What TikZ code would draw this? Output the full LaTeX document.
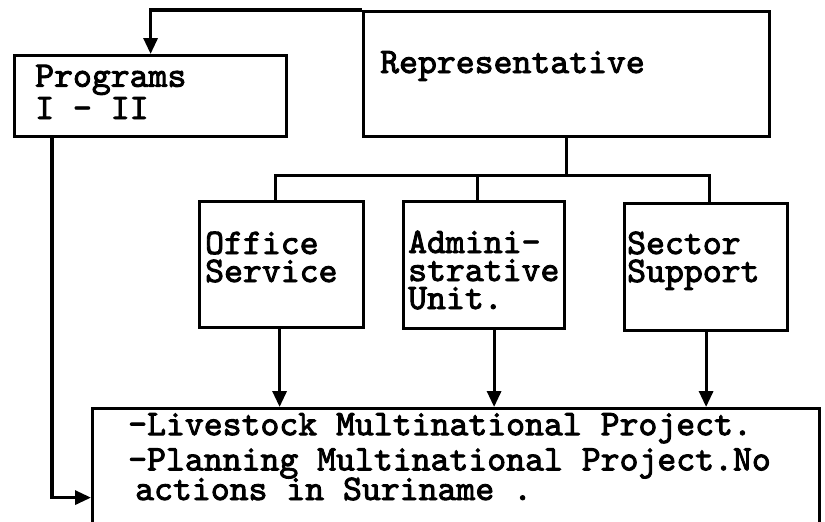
\documentclass[tikz,border=0pt]{standalone}
\usepackage{fontspec}
\newfontfamily\typew{lmmono10-regular.otf}[FakeBold=2.5]
\usetikzlibrary{arrows.meta,calc}

\begin{document}
\begin{tikzpicture}[x=1pt,y=-1pt,
  box/.style={draw,line width=3.2pt,anchor=north west,inner sep=0pt},
  txt/.style={anchor=base west,align=left,inner sep=0pt,
    font=\typew\bfseries\fontsize{36pt}{29pt}\selectfont},
  link/.style={line width=3.2pt},
  arr/.style={line width=3.2pt,-{Triangle[length=16pt,width=14pt]}}]
  \useasboundingbox (0,0) rectangle (825,522);
  \clip (0,0) rectangle (825,522);
  \node[box,minimum width=272pt,minimum height=81pt]  (prog)   at (13,54)   {};
  \node[box,minimum width=406pt,minimum height=125pt] (rep)    at (362,10)  {};
  \node[box,minimum width=164pt,minimum height=126pt] (office) at (198,200) {};
  \node[box,minimum width=161pt,minimum height=127pt] (admin)  at (402,200) {};
  \node[box,minimum width=163pt,minimum height=127pt] (sector) at (623,202) {};
  \node[box,minimum width=727pt,minimum height=178pt] (proj)   at (91,407)  {};
  % anchors sit on the last line of each text
  \node[txt] (progtxt)   at (35,119)  {Programs\\[1pt]I - II};
  \node[txt] (reptxt)    at (380,73)  {Representative};
  \node[txt] (officetxt) at (205,282) {Office\\[-1pt]Service};
  \node[txt] (admintxt)  at (408,309) {Admini-\\[-1pt]strative\\[-1pt]Unit.};
  \node[txt] (sectortxt) at (627,282) {Sector\\[-1pt]Support};
  \node[txt] (projtxt)   at (128,500) {-Livestock Multinational Project.\\[4pt]
    -Planning Multinational Project.No\\[-2pt]
    \hspace*{7pt}actions in Suriname .};
  \draw[arr] (rep.north west) -| (prog.north);
  \draw[link] (rep.south) -- ++(0,37) coordinate (bus);
  \draw[link] ([xshift=-6pt]office.north) |- (bus) -| ([xshift=3pt]sector.north);
  \draw[link] ([xshift=-7pt]admin.north) -- ([xshift=-7pt]admin.north |- bus);
  \draw[arr] ([xshift=-2pt]office.south) -- ([xshift=-2pt]office.south |- proj.north);
  \draw[arr] ([xshift=10pt]admin.south) -- ([xshift=10pt]admin.south |- proj.north);
  \draw[arr] (sector.south) -- (sector.south |- proj.north);
  \draw[arr] ([xshift=39pt]prog.south west) |- (proj.west);
\end{tikzpicture}
\end{document}
